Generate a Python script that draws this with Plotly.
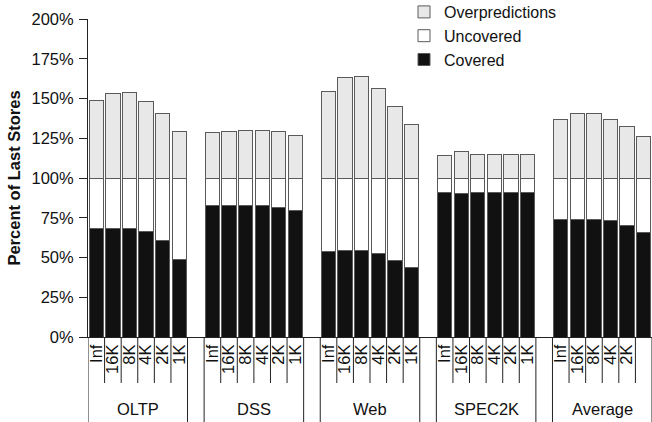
import plotly.graph_objects as go

groups = ["OLTP", "DSS", "Web", "SPEC2K", "Average"]
sizes = ["Inf", "16K", "8K", "4K", "2K", "1K"]

covered = [
    68.4, 68.4, 68.4, 66.2, 61.0, 49.0,
    82.4, 82.4, 82.4, 82.4, 81.5, 79.5,
    53.7, 54.3, 54.3, 52.6, 48.0, 43.4,
    90.8, 90.2, 90.8, 90.8, 90.8, 90.8,
    74.0, 74.0, 74.0, 73.2, 70.4, 65.6,
]
uncovered = [
    31.6, 31.6, 31.6, 33.8, 39.0, 51.0,
    17.6, 17.6, 17.6, 17.6, 18.5, 20.5,
    46.3, 45.7, 45.7, 47.4, 52.0, 56.6,
    9.2, 9.8, 9.2, 9.2, 9.2, 9.2,
    26.0, 26.0, 26.0, 26.8, 29.6, 34.4,
]
overpredictions = [
    49.0, 53.0, 53.8, 48.4, 40.3, 29.5,
    28.5, 29.4, 30.0, 30.0, 29.4, 26.8,
    54.5, 62.9, 64.0, 56.0, 44.9, 33.8,
    14.3, 16.4, 14.9, 14.9, 14.9, 14.9,
    36.5, 40.7, 40.7, 37.1, 32.3, 26.0,
]
y_ticks = [0, 25, 50, 75, 100, 125, 150, 175, 200]

slots_per_group = len(sizes) + 1
xpos = []
labels = []
for g in range(len(groups)):
    for i, s in enumerate(sizes):
        xpos.append(g * slots_per_group + i)
        labels.append(s)

FONT = "Liberation Sans, Arial, sans-serif"
outline = dict(color="#5a5a5a", width=1)

fig = go.Figure()
fig.add_trace(go.Bar(x=xpos, y=covered, name="Covered", legendrank=3,
                     marker=dict(color="#111111", line=outline)))
fig.add_trace(go.Bar(x=xpos, y=uncovered, name="Uncovered", legendrank=2,
                     marker=dict(color="#ffffff", line=outline)))
fig.add_trace(go.Bar(x=xpos, y=overpredictions, name="Overpredictions", legendrank=1,
                     marker=dict(color="#e8e8e8", line=outline)))

shapes = []
short_bottom = -46 / 318
long_bottom = -90 / 318
for g in range(len(groups)):
    start = g * slots_per_group - 0.5
    for k in range(len(sizes) + 1):
        xb = start + k
        is_long = k == 0 or k == len(sizes)
        shapes.append(dict(type="line", xref="x", yref="paper", x0=xb, x1=xb,
                           y0=0, y1=long_bottom if is_long else short_bottom,
                           line=dict(color="#222222", width=1)))

annotations = []
for g, name in enumerate(groups):
    annotations.append(dict(x=g * slots_per_group + 2.5, y=-71.5 / 318, xref="x", yref="paper",
                            text=name, showarrow=False,
                            font=dict(family=FONT, size=16.5, color="#111111"),
                            xanchor="center", yanchor="middle"))

fig.update_layout(
    width=652, height=422,
    margin=dict(l=88, r=0, t=19, b=85, autoexpand=False),
    barmode="stack", bargap=0.14,
    plot_bgcolor="white", paper_bgcolor="white",
    font=dict(family=FONT, size=16.5, color="#111111"),
    showlegend=True,
    legend=dict(x=(404 - 88) / 564, y=1 + 24 / 318, xanchor="left", yanchor="top",
                traceorder="normal",
                font=dict(family=FONT, size=16), bgcolor="rgba(0,0,0,0)",
                itemwidth=30),
    shapes=shapes,
    annotations=annotations,
)
fig.update_xaxes(range=[-0.5, 33.5], tickvals=xpos, ticktext=labels, tickangle=-90,
                 ticks="", showline=True, linecolor="#222222", linewidth=1,
                 showgrid=False, zeroline=False, fixedrange=True, automargin=False,
                 tickfont=dict(family=FONT, size=16.5))
fig.update_yaxes(range=[0, 200], tickvals=y_ticks, ticktext=[f"{v}%" for v in y_ticks],
                 ticks="outside", ticklen=8, tickcolor="#222222", ticklabelstandoff=2,
                 showline=True, linecolor="#222222", linewidth=1,
                 showgrid=False, zeroline=False, automargin=False, fixedrange=True,
                 title=dict(text="Percent of Last Stores",
                            font=dict(family=FONT, size=16.5, weight="bold"), standoff=6),
                 tickfont=dict(family=FONT, size=16.5))

fig.write_html("out.html", config={"displayModeBar": False},
               post_script="document.body.style.margin='0px';")
